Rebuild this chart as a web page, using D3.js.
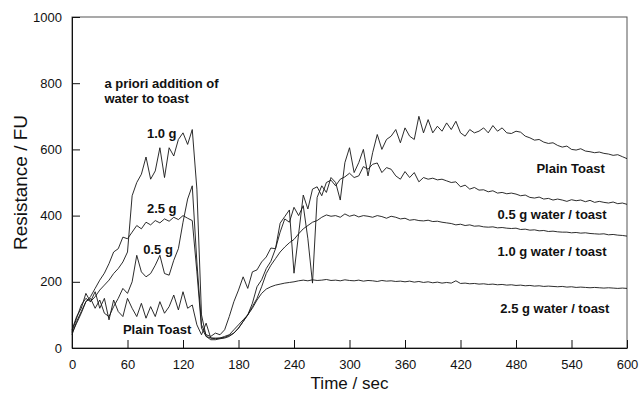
<!DOCTYPE html>
<html>
<head>
<meta charset="utf-8">
<script src="https://cdn.jsdelivr.net/npm/d3@7"></script>
<style>
  body { margin: 0; background: #fff; }
  svg { display: block; font-family: "Liberation Sans", Arial, sans-serif; }
</style>
</head>
<body>
<div id="general"></div>
<script>
const w = 639, h = 393;
const m = { l: 72, r: 12, t: 17, b: 45 };
m.w = w - m.l - m.r;
m.h = h - m.t - m.b;

// sampling times, seconds
const timeSec = [0,5,10,15,20,25,30,35,40,45,50,55,60,65,70,75,80,85,90,95,
  100,105,110,115,120,125,130,135,140,145,150,155,160,165,170,175,180,185,190,195,
  200,205,210,215,220,225,230,235,240,245,250,255,260,265,270,275,280,285,290,295,
  300,305,310,315,320,325,330,335,340,345,350,355,360,365,370,375,380,385,390,395,
  400,405,410,415,420,425,430,435,440,445,450,455,460,465,470,475,480,485,490,495,
  500,505,510,515,520,525,530,535,540,545,550,555,560,565,570,575,580,585,590,595,600];

const plainToast = [55,95,120,165,140,170,120,150,85,145,
  110,95,150,120,95,135,90,125,95,140,
  105,125,160,115,170,120,130,70,40,75,
  30,28,30,32,38,45,60,80,100,135,
  185,206,240,262,300,350,390,380,425,400,
  430,330,196,455,490,470,515,500,447,560,
  605,530,560,600,520,590,645,600,630,640,
  660,620,665,640,630,700,650,690,650,670,
  655,680,660,685,650,640,660,650,655,665,
  650,672,655,665,650,648,655,652,640,635,
  628,630,622,618,620,612,607,610,600,598,
  602,595,593,590,592,588,586,582,584,578,572];

const water05 = [45,75,105,140,150,120,145,105,95,125,
  150,180,165,200,280,230,215,225,250,280,
  225,220,265,300,380,450,490,260,70,40,
  35,45,40,55,95,140,175,215,180,230,
  236,260,275,302,300,377,397,417,226,345,
  462,420,480,487,460,500,507,490,510,517,
  528,515,520,548,540,555,559,530,545,540,
  520,510,533,515,530,502,515,510,513,508,
  510,505,500,502,487,492,480,485,477,478,
  472,475,468,470,466,468,465,460,462,455,
  453,456,450,452,447,450,447,443,448,445,
  447,442,446,440,443,440,438,441,436,438,434];

const water10 = [50,90,130,150,140,155,175,190,205,225,
  240,260,290,460,500,525,577,510,535,605,
  515,605,580,630,650,615,660,480,100,35,
  30,30,30,35,40,55,70,85,100,125,
  150,185,225,250,270,290,305,318,328,345,
  360,370,380,385,395,402,398,400,395,405,
  398,402,396,400,398,395,400,397,392,398,
  395,390,392,386,388,385,384,386,382,383,
  380,378,376,372,374,370,372,368,369,366,
  365,366,363,364,362,361,362,358,359,356,
  357,354,355,352,353,351,350,350,348,349,
  347,348,346,345,344,345,342,343,341,340,338];

const water25 = [40,80,110,140,155,180,205,226,255,290,
  300,335,330,350,370,360,380,372,385,378,
  390,383,395,388,400,392,385,230,60,35,
  25,25,28,30,35,45,60,80,100,120,
  145,165,178,185,190,193,196,198,200,203,
  205,203,206,204,205,207,204,205,203,206,
  204,203,205,202,204,203,201,204,202,203,
  201,202,200,202,199,201,198,200,197,199,
  196,198,196,203,195,196,194,195,193,194,
  192,193,191,192,190,191,189,190,188,189,
  187,188,186,187,186,185,186,184,185,183,
  184,183,182,183,182,181,182,181,180,181,180];

const seriesNames = ["Plain Toast", "0.5 g", "1.0 g", "2.5 g"];
const seriesValues = [plainToast, water05, water10, water25];

const xTicks = [0, 60, 120, 180, 240, 300, 360, 420, 480, 540, 600];
const yTicks = [0, 200, 400, 600, 800, 1000];

// annotation labels: [text, time, value, anchor]
const noteLabels = [
  ["a priori addition of", 35, 785, "start"],
  ["water to toast", 35, 740, "start"],
  ["1.0 g", 81, 633, "start"],
  ["2.5 g", 81, 408, "start"],
  ["0.5 g", 77, 284, "start"],
  ["Plain Toast", 55, 42, "start"],
  ["Plain Toast", 576, 530, "end"],
  ["0.5 g water / toast", 578, 390, "end"],
  ["1.0 g water / toast", 578, 278, "end"],
  ["2.5 g water / toast", 581, 106, "end"]
];

const svg = d3.select("#general").append("svg").attr("width", w).attr("height", h);

const x = d3.scaleLinear().domain([0, 600]).range([m.l, m.l + m.w]);
const y = d3.scaleLinear().domain([0, 1000]).range([m.t + m.h, m.t]);

// frame
svg.append("rect")
  .attr("x", m.l).attr("y", m.t)
  .attr("width", m.w).attr("height", m.h)
  .attr("fill", "none").attr("stroke", "#555").attr("stroke-width", 1);

const line = d3.line().x((d, i) => x(timeSec[i])).y(d => y(d));

svg.append("g").selectAll("path")
  .data(seriesValues)
  .join("path")
    .attr("d", d => line(d))
    .attr("fill", "none")
    .attr("stroke", "#151515")
    .attr("stroke-width", 0.9)
    .attr("stroke-linejoin", "round");

// axes
const gx = svg.append("g").attr("transform", `translate(0,${m.t + m.h})`)
  .call(d3.axisBottom(x).tickValues(xTicks).tickSizeInner(-8).tickSizeOuter(0).tickPadding(12));
const gy = svg.append("g").attr("transform", `translate(${m.l},0)`)
  .call(d3.axisLeft(y).tickValues(yTicks).tickFormat(d3.format("d")).tickSizeInner(-8).tickSizeOuter(0).tickPadding(10));

[gx, gy].forEach(g => {
  g.selectAll("path, line").attr("stroke", "#111");
  g.selectAll("text").attr("font-size", 13).attr("fill", "#111")
    .attr("font-family", "'Liberation Sans', Arial, sans-serif");
});

// axis titles
svg.append("text")
  .attr("x", x(300)).attr("y", 389)
  .attr("text-anchor", "middle")
  .attr("font-size", 17).attr("fill", "#111")
  .text("Time / sec");

svg.append("g")
  .attr("transform", `translate(27,${y(500)})`)
  .append("text")
  .attr("transform", "rotate(-90)")
  .attr("text-anchor", "middle")
  .attr("font-size", 19).attr("fill", "#111")
  .text("Resistance / FU");

// annotations
svg.append("g").selectAll("text")
  .data(noteLabels)
  .join("text")
    .attr("x", d => x(d[1]))
    .attr("y", d => y(d[2]))
    .attr("text-anchor", d => d[3])
    .attr("font-size", 13)
    .attr("font-weight", "bold")
    .attr("fill", "#111")
    .text(d => d[0]);
</script>
</body>
</html>
